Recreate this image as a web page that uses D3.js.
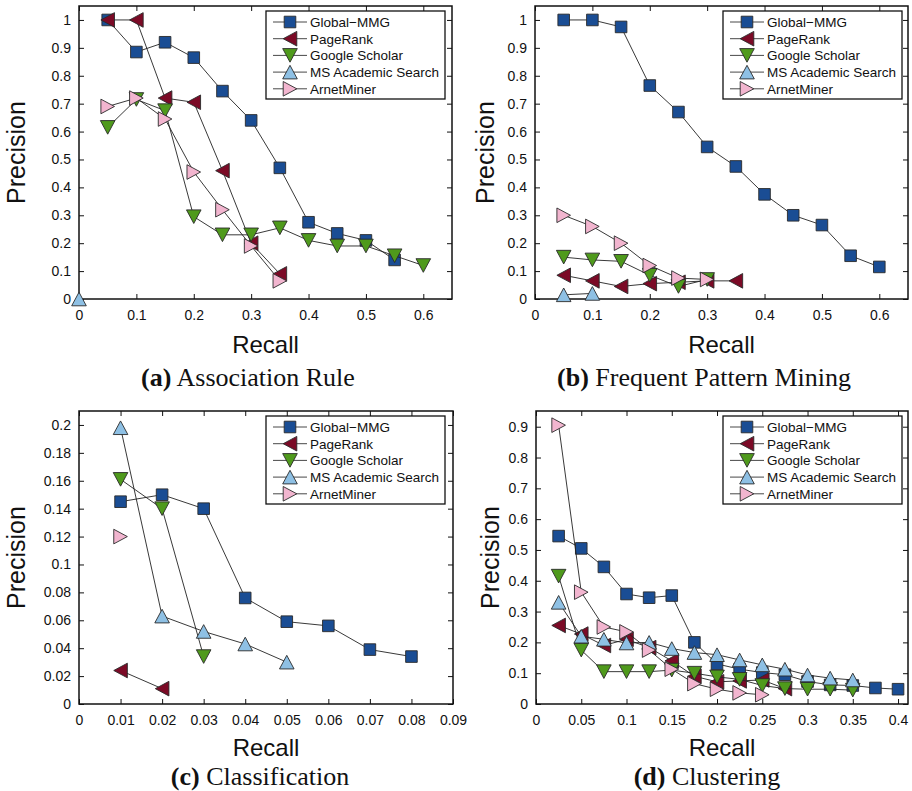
<!DOCTYPE html>
<html>
<head>
<meta charset="utf-8">
<script src="https://cdn.jsdelivr.net/npm/d3@7"></script>
<style>
  body { margin: 0; background: #fff; }
  svg { display: block; }
</style>
</head>
<body>
<div id="chart"></div>
<script>
// series names (legend order)
const SERIES = ["Global\u2212MMG", "PageRank", "Google Scholar", "MS Academic Search", "ArnetMiner"];

// (a) Association Rule  [recall, precision]
const assocGlobal = [[0.05, 1.0], [0.1, 0.885], [0.15, 0.92], [0.2, 0.865], [0.25, 0.745], [0.3, 0.64], [0.35, 0.47], [0.4, 0.275], [0.45, 0.235], [0.5, 0.21], [0.55, 0.14]];
const assocPageRank = [[0.05, 1.0], [0.1, 1.0], [0.15, 0.72], [0.2, 0.705], [0.25, 0.46], [0.3, 0.2], [0.35, 0.09]];
const assocGoogle = [[0.05, 0.615], [0.1, 0.715], [0.15, 0.675], [0.2, 0.295], [0.25, 0.23], [0.3, 0.23], [0.35, 0.255], [0.4, 0.21], [0.45, 0.19], [0.5, 0.19], [0.55, 0.155], [0.6, 0.12]];
const assocMS = [[0, 0]];
const assocArnet = [[0.05, 0.69], [0.1, 0.72], [0.15, 0.645], [0.2, 0.455], [0.25, 0.32], [0.3, 0.19], [0.35, 0.065]];

// (b) Frequent Pattern Mining
const fpmGlobal = [[0.05, 1.0], [0.1, 1.0], [0.15, 0.975], [0.2, 0.765], [0.25, 0.67], [0.3, 0.545], [0.35, 0.475], [0.4, 0.375], [0.45, 0.3], [0.5, 0.265], [0.55, 0.155], [0.6, 0.115]];
const fpmPageRank = [[0.05, 0.085], [0.1, 0.065], [0.15, 0.045], [0.2, 0.055], [0.25, 0.06], [0.3, 0.065], [0.35, 0.065]];
const fpmGoogle = [[0.05, 0.15], [0.1, 0.14], [0.15, 0.135], [0.2, 0.085], [0.25, 0.045], [0.3, 0.07]];
const fpmMS = [[0.05, 0.015], [0.1, 0.02]];
const fpmArnet = [[0.05, 0.3], [0.1, 0.26], [0.15, 0.2], [0.2, 0.12], [0.25, 0.075], [0.3, 0.07]];

// (c) Classification
const clsGlobal = [[0.01, 0.145], [0.02, 0.15], [0.03, 0.14], [0.04, 0.076], [0.05, 0.059], [0.06, 0.056], [0.07, 0.039], [0.08, 0.034]];
const clsPageRank = [[0.01, 0.024], [0.02, 0.011]];
const clsGoogle = [[0.01, 0.161], [0.02, 0.14], [0.03, 0.034]];
const clsMS = [[0.01, 0.198], [0.02, 0.063], [0.03, 0.052], [0.04, 0.043], [0.05, 0.03]];
const clsArnet = [[0.01, 0.12]];

// (d) Clustering
const cluGlobal = [[0.025, 0.545], [0.05, 0.505], [0.075, 0.445], [0.1, 0.357], [0.125, 0.345], [0.15, 0.352], [0.175, 0.2], [0.2, 0.13], [0.225, 0.113], [0.25, 0.102], [0.275, 0.095], [0.3, 0.073], [0.325, 0.062], [0.35, 0.06], [0.375, 0.052], [0.4, 0.048]];
const cluPageRank = [[0.025, 0.255], [0.05, 0.227], [0.075, 0.19], [0.1, 0.21], [0.125, 0.183], [0.15, 0.14], [0.175, 0.09], [0.2, 0.072], [0.225, 0.075], [0.25, 0.078], [0.275, 0.05]];
const cluGoogle = [[0.025, 0.415], [0.05, 0.175], [0.075, 0.105], [0.1, 0.105], [0.125, 0.105], [0.15, 0.11], [0.175, 0.1], [0.2, 0.088], [0.225, 0.08], [0.25, 0.06], [0.275, 0.05], [0.3, 0.048], [0.325, 0.048], [0.35, 0.045]];
const cluMS = [[0.025, 0.33], [0.05, 0.22], [0.075, 0.21], [0.1, 0.198], [0.125, 0.2], [0.15, 0.18], [0.175, 0.167], [0.2, 0.16], [0.225, 0.143], [0.25, 0.127], [0.275, 0.113], [0.3, 0.094], [0.325, 0.084], [0.35, 0.078]];
const cluArnet = [[0.025, 0.905], [0.05, 0.363], [0.075, 0.25], [0.1, 0.234], [0.125, 0.175], [0.15, 0.113], [0.175, 0.066], [0.2, 0.048], [0.225, 0.036], [0.25, 0.03]];

// tick values
const xTicksAB = [0, 0.1, 0.2, 0.3, 0.4, 0.5, 0.6];
const yTicksAB = [0, 0.1, 0.2, 0.3, 0.4, 0.5, 0.6, 0.7, 0.8, 0.9, 1];
const xTicksC = [0, 0.01, 0.02, 0.03, 0.04, 0.05, 0.06, 0.07, 0.08, 0.09];
const yTicksC = [0, 0.02, 0.04, 0.06, 0.08, 0.1, 0.12, 0.14, 0.16, 0.18, 0.2];
const xTicksD = [0, 0.05, 0.1, 0.15, 0.2, 0.25, 0.3, 0.35, 0.4];
const yTicksD = [0, 0.1, 0.2, 0.3, 0.4, 0.5, 0.6, 0.7, 0.8, 0.9];

// marker look per series
const MARKERS = [
  { shape: "square", fill: "#1a4d94" },
  { shape: "left", fill: "#7b0a26" },
  { shape: "down", fill: "#4f9a1c" },
  { shape: "up", fill: "#8ec0e4" },
  { shape: "right", fill: "#f2b5cf" },
];

const W = 912, H = 791;
const svg = d3.select("#chart").append("svg").attr("width", W).attr("height", H);

const SANS = "'Liberation Sans', Arial, Helvetica, sans-serif";
const SERIF = "'Liberation Serif', 'Times New Roman', serif";

// custom marker path centred at 0,0
const markerPath = (shape) => {
  const s = 5.8, w = 7.3, h = 6.8;
  switch (shape) {
    case "square": return `M${-s},${-s}H${s}V${s}H${-s}Z`;
    case "left": return `M${-h},0L${h},${-w}L${h},${w}Z`;
    case "right": return `M${h},0L${-h},${-w}L${-h},${w}Z`;
    case "down": return `M0,${h}L${-w},${-h}L${w},${-h}Z`;
    case "up": return `M0,${-h}L${-w},${h}L${w},${h}Z`;
  }
};

const fmt = (v) => String(+v.toFixed(3));

const drawPanel = ({ box, xDomain, yDomain, xTicks, yTicks, series, caption, letter, yLabelX, legendX, legendY, recallDy, captionDy }) => {
  const x = d3.scaleLinear().domain(xDomain).range([box.left, box.right]);
  const y = d3.scaleLinear().domain(yDomain).range([box.bottom, box.top]);
  const g = svg.append("g");

  // axes with inward ticks
  const styleAxis = (sel) => {
    sel.select(".domain").remove();
    sel.selectAll(".tick line").attr("stroke", "#111").attr("stroke-width", 1);
    sel.selectAll("text").attr("font-family", SANS).attr("font-size", 14).attr("fill", "#111");
  };
  g.append("g").attr("transform", `translate(0,${box.bottom})`)
    .call(d3.axisBottom(x).tickValues(xTicks).tickFormat(fmt).tickSizeInner(-5).tickSizeOuter(0).tickPadding(11))
    .call(styleAxis);
  g.append("g").attr("transform", `translate(0,${box.top})`)
    .call(d3.axisTop(x).tickValues(xTicks).tickFormat("").tickSizeInner(-5).tickSizeOuter(0))
    .call(styleAxis);
  g.append("g").attr("transform", `translate(${box.left},0)`)
    .call(d3.axisLeft(y).tickValues(yTicks).tickFormat(fmt).tickSizeInner(-5).tickSizeOuter(0).tickPadding(8))
    .call(styleAxis);
  g.append("g").attr("transform", `translate(${box.right},0)`)
    .call(d3.axisRight(y).tickValues(yTicks).tickFormat("").tickSizeInner(-5).tickSizeOuter(0))
    .call(styleAxis);

  g.append("rect")
    .attr("x", box.left).attr("y", box.top)
    .attr("width", box.right - box.left).attr("height", box.bottom - box.top)
    .attr("fill", "none").attr("stroke", "#111").attr("stroke-width", 1.5);

  // lines and markers, series by series
  const line = d3.line().x((d) => x(d[0])).y((d) => y(d[1]));
  series.forEach((data, i) => {
    const sg = g.append("g");
    sg.append("path").attr("d", line(data)).attr("fill", "none").attr("stroke", "#222").attr("stroke-width", 0.9);
    sg.selectAll("path.mk").data(data).enter().append("path")
      .classed("mk", true)
      .attr("d", markerPath(MARKERS[i].shape))
      .attr("transform", (d) => `translate(${x(d[0])},${y(d[1])})`)
      .attr("fill", MARKERS[i].fill)
      .attr("stroke", "#2a2a2a").attr("stroke-width", 0.9);
  });

  // legend
  const lg = g.append("g").attr("transform", `translate(${legendX},${legendY})`);
  lg.append("rect").attr("width", 179).attr("height", 88)
    .attr("fill", "#fff").attr("stroke", "#111").attr("stroke-width", 1.3);
  SERIES.forEach((name, i) => {
    const ry = 11 + i * 16.7;
    lg.append("line").attr("x1", 7).attr("x2", 41).attr("y1", ry).attr("y2", ry)
      .attr("stroke", "#333").attr("stroke-width", 0.9);
    lg.append("path").attr("d", markerPath(MARKERS[i].shape))
      .attr("transform", `translate(24,${ry})`)
      .attr("fill", MARKERS[i].fill).attr("stroke", "#2a2a2a").attr("stroke-width", 0.9);
    lg.append("text").attr("x", 44).attr("y", ry).attr("dy", "0.36em")
      .attr("font-family", SANS).attr("font-size", 13.5).attr("fill", "#111").text(name);
  });

  // axis titles
  const cx = (box.left + box.right) / 2;
  g.append("text").attr("x", cx).attr("y", box.bottom + recallDy)
    .attr("text-anchor", "middle").attr("font-family", SANS).attr("font-size", 24).attr("fill", "#111")
    .text("Recall");
  g.append("text")
    .attr("transform", `translate(${yLabelX},${(box.top + box.bottom) / 2}) rotate(-90)`)
    .attr("text-anchor", "middle").attr("font-family", SANS).attr("font-size", 25).attr("fill", "#111")
    .text("Precision");

  // caption
  const cap = g.append("text").attr("x", caption.x).attr("y", box.bottom + captionDy)
    .attr("text-anchor", "middle").attr("font-family", SERIF).attr("font-size", 26).attr("fill", "#111");
  cap.append("tspan").attr("font-weight", 700).text(`(${letter})`);
  cap.append("tspan").text(" " + caption.text);
};

drawPanel({
  box: { left: 79, right: 452, top: 6, bottom: 299 },
  xDomain: [0, 0.65], yDomain: [0, 1.05],
  xTicks: xTicksAB, yTicks: yTicksAB,
  series: [assocGlobal, assocPageRank, assocGoogle, assocMS, assocArnet],
  caption: { x: 248, text: "Association Rule" }, letter: "a",
  yLabelX: 25, legendX: 266, legendY: 11, recallDy: 54, captionDy: 87,
});

drawPanel({
  box: { left: 535, right: 908, top: 6, bottom: 299 },
  xDomain: [0, 0.65], yDomain: [0, 1.05],
  xTicks: xTicksAB, yTicks: yTicksAB,
  series: [fpmGlobal, fpmPageRank, fpmGoogle, fpmMS, fpmArnet],
  caption: { x: 704, text: "Frequent Pattern Mining" }, letter: "b",
  yLabelX: 494, legendX: 723, legendY: 11, recallDy: 54, captionDy: 87,
});

drawPanel({
  box: { left: 79, right: 453, top: 411, bottom: 704 },
  xDomain: [0, 0.09], yDomain: [0, 0.21],
  xTicks: xTicksC, yTicks: yTicksC,
  series: [clsGlobal, clsPageRank, clsGoogle, clsMS, clsArnet],
  caption: { x: 260, text: "Classification" }, letter: "c",
  yLabelX: 25, legendX: 266, legendY: 416, recallDy: 52, captionDy: 81,
});

drawPanel({
  box: { left: 536, right: 908, top: 411, bottom: 704 },
  xDomain: [0, 0.411], yDomain: [0, 0.951],
  xTicks: xTicksD, yTicks: yTicksD,
  series: [cluGlobal, cluPageRank, cluGoogle, cluMS, cluArnet],
  caption: { x: 707, text: "Clustering" }, letter: "d",
  yLabelX: 499, legendX: 723, legendY: 416, recallDy: 52, captionDy: 81,
});
</script>
</body>
</html>
